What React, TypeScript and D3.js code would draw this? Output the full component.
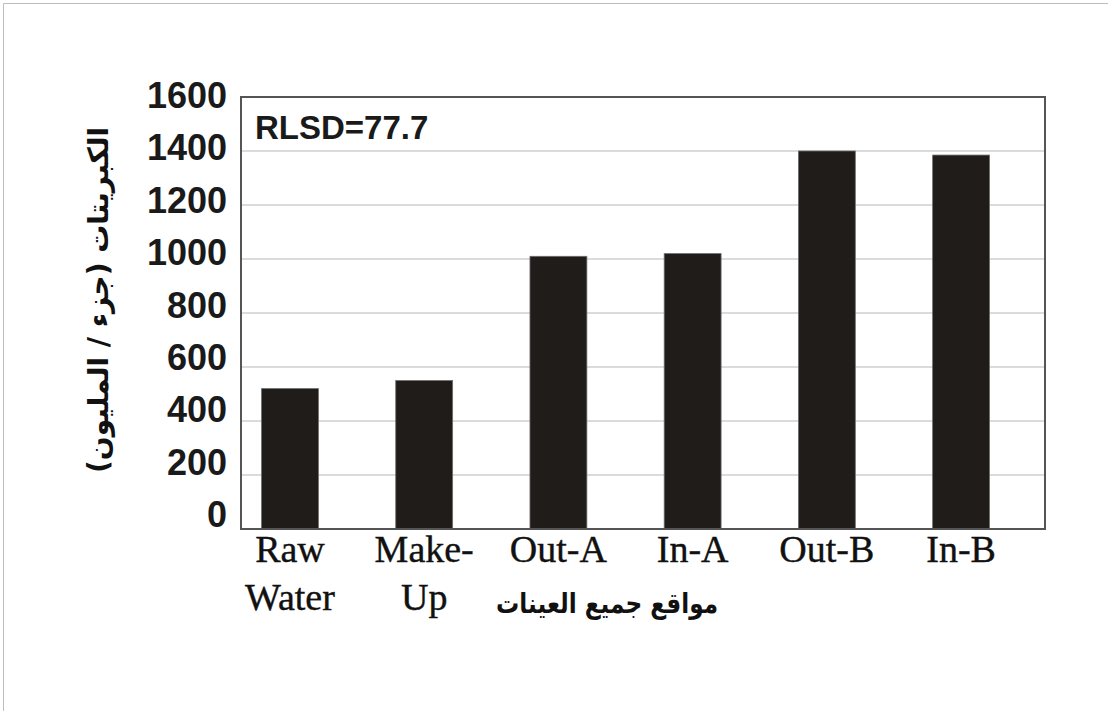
import React from "react";
import * as d3 from "d3";

const categories: string[][] = [["Raw", "Water"], ["Make-", "Up"], ["Out-A"], ["In-A"], ["Out-B"], ["In-B"]];
const values: number[] = [520, 550, 1010, 1020, 1400, 1385];
const yTicks: number[] = [0, 200, 400, 600, 800, 1000, 1200, 1400, 1600];
const yTitle = "الكبريتات (جزء / المليون)";
const xTitle = "مواقع جميع العينات";
const note = "RLSD=77.7";

const W = 1108;
const H = 711;
const plot = { left: 241, right: 1045, top: 97, bottom: 529 };

export default function App() {
  const keys = categories.map((c) => c.join(" "));
  const x = d3
    .scaleBand<string>()
    .domain(keys)
    .range([plot.left, plot.right])
    .paddingInner(0.576)
    .paddingOuter(0.283)
    .align(0.27);
  const y = d3.scaleLinear().domain([0, 1600]).range([plot.bottom, plot.top]);
  // tick labels sit on a slightly tighter spacing than the gridlines
  const yLabel = d3.scaleLinear().domain([0, 1600]).range([527, 108]);

  return (
    <svg
      width={W}
      height={H}
      style={{ position: "absolute", left: 0, top: 0, background: "#fff" }}
    >
      <rect x={0} y={0} width={W} height={H} fill="#fff" />
      <path d={`M3.5,${H} V3.5 H${W}`} fill="none" stroke="#bdbdbd" strokeWidth={1} />
      {yTicks.slice(1, -1).map((t) => (
        <line
          key={t}
          x1={plot.left}
          x2={plot.right}
          y1={y(t)}
          y2={y(t)}
          stroke="#cfcfcf"
          strokeWidth={1.5}
        />
      ))}
      {values.map((v, i) => (
        <rect
          key={keys[i]}
          x={x(keys[i])}
          y={y(v)}
          width={x.bandwidth()}
          height={y(0) - y(v)}
          fill="#201c1a"
          stroke="#6e6e6e"
          strokeWidth={0.8}
        />
      ))}
      <rect
        x={plot.left}
        y={plot.top}
        width={plot.right - plot.left}
        height={plot.bottom - plot.top}
        fill="none"
        stroke="#555"
        strokeWidth={2}
      />
      {yTicks.map((t) => (
        <text
          key={t}
          x={227}
          y={yLabel(t)}
          textAnchor="end"
          fontFamily="'Liberation Sans', Arial, sans-serif"
          fontWeight="bold"
          fontSize={36}
          fill="#1a1a1a"
        >
          {t}
        </text>
      ))}
      <text
        x={255}
        y={139}
        fontFamily="'Liberation Sans', Arial, sans-serif"
        fontWeight="bold"
        fontSize={33}
        fill="#1a1a1a"
      >
        {note}
      </text>
      {categories.map((lines, i) => {
        const cx = (x(keys[i]) as number) + x.bandwidth() / 2;
        return (
          <text
            key={keys[i]}
            x={cx}
            y={562}
            textAnchor="middle"
            fontFamily="'Liberation Serif', 'Times New Roman', serif"
            fontSize={38}
            fill="#111"
            stroke="#111"
            strokeWidth={0.4}
          >
            {lines.map((l, j) => (
              <tspan key={j} x={cx} dy={j === 0 ? 0 : 48}>
                {l}
              </tspan>
            ))}
          </text>
        );
      })}
      <text
        x={607}
        y={613}
        textAnchor="middle"
        direction="rtl"
        fontFamily="'DejaVu Sans', sans-serif"
        fontWeight="bold"
        fontSize={28}
        textLength={222}
        lengthAdjust="spacingAndGlyphs"
        fill="#111"
      >
        {xTitle}
      </text>
      <text
        transform={`translate(108,300) rotate(-90)`}
        textAnchor="middle"
        direction="rtl"
        fontFamily="'DejaVu Sans', sans-serif"
        fontWeight="bold"
        fontSize={28}
        fill="#111"
      >
        {yTitle}
      </text>
    </svg>
  );
}
